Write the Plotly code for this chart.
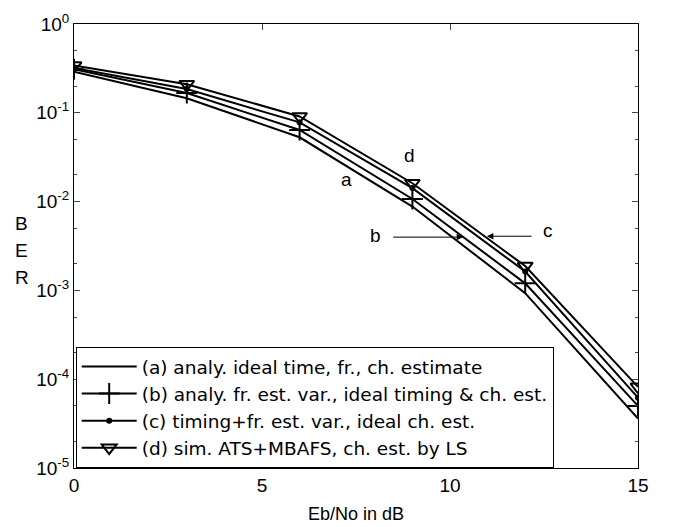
import plotly.graph_objects as go

snr_db = [0, 3, 6, 9, 12, 15]
ber_a = [0.29, 0.146, 0.053, 0.0088, 0.00093, 3.6e-5]
ber_b = [0.31, 0.167, 0.064, 0.0107, 0.0012, 5.0e-5]
ber_c = [0.32, 0.185, 0.078, 0.0142, 0.00163, 6.2e-5]
ber_d = [0.34, 0.210, 0.091, 0.0161, 0.00188, 8.2e-5]

names = [
    "(a) analy. ideal time, fr., ch. estimate",
    "(b) analy. fr. est. var., ideal timing & ch. est.",
    "(c) timing+fr. est. var., ideal ch. est.",
    "(d) sim. ATS+MBAFS, ch. est. by LS",
]

y_tick_vals = [1e-5, 1e-4, 1e-3, 1e-2, 1e-1, 1]
y_tick_text = ["10<sup>-5</sup>", "10<sup>-4</sup>", "10<sup>-3</sup>",
               "10<sup>-2</sup>", "10<sup>-1</sup>", "10<sup>0</sup>"]
x_tick_vals = [0, 5, 10, 15]

FONT = "Liberation Sans, Arial, sans-serif"

fig = go.Figure()
fig.add_trace(go.Scatter(x=snr_db, y=ber_a, name=names[0], mode="lines",
                         line=dict(color="black", width=2)))
fig.add_trace(go.Scatter(x=snr_db, y=ber_b, name=names[1], mode="lines+markers",
                         line=dict(color="black", width=2),
                         marker=dict(symbol="cross-thin", size=15, color="black",
                                     line=dict(color="black", width=2))))
fig.add_trace(go.Scatter(x=snr_db, y=ber_c, name=names[2], mode="lines+markers",
                         line=dict(color="black", width=2),
                         marker=dict(symbol="circle", size=6, color="black")))
fig.add_trace(go.Scatter(x=snr_db, y=ber_d, name=names[3], mode="lines+markers",
                         line=dict(color="black", width=2),
                         marker=dict(symbol="triangle-down-open", size=13, color="black",
                                     line=dict(color="black", width=2))))

# x/y for annotations on log axis given as log10 values
texts = [("a", 7.24, -1.75), ("d", 8.91, -1.48), ("b", 8.03, -2.38), ("c", 12.6, -2.32)]
for t, xx, yy in texts:
    fig.add_annotation(x=xx, y=yy, xref="x", yref="y", text=t, showarrow=False,
                       font=dict(family=FONT, size=19, color="black"))

arrows = [(8.45, 10.35, -2.40), (12.21, 10.98, -2.39)]
for x0, x1, yy in arrows:
    fig.add_annotation(x=x1, y=yy, ax=x0, ay=yy, xref="x", yref="y", axref="x", ayref="y",
                       text="", showarrow=True, arrowhead=2, arrowsize=1.3,
                       arrowwidth=1, arrowcolor="black")

for letter, py in [("B", 0.550), ("E", 0.489), ("R", 0.429)]:
    fig.add_annotation(x=-0.108, y=py, xref="paper", yref="paper", text=letter,
                       showarrow=False, font=dict(family=FONT, size=19, color="black"))

fig.update_layout(
    width=672, height=519,
    margin=dict(l=66, r=42, t=16, b=59),
    paper_bgcolor="white", plot_bgcolor="white",
    font=dict(family=FONT, size=18, color="black"),
    showlegend=True,
    legend=dict(x=0.003, y=0.0, xanchor="left", yanchor="bottom",
                bgcolor="white", bordercolor="black", borderwidth=1,
                font=dict(family="DejaVu Sans, sans-serif", size=18.5, color="black"),
                itemwidth=55, tracegroupgap=0),
)
fig.update_xaxes(range=[0, 15], tickvals=x_tick_vals, ticks="inside", ticklen=6,
                 tickfont=dict(family=FONT, size=19), automargin=False,
                 showline=True, linecolor="black", linewidth=1, mirror="ticks",
                 showgrid=False, zeroline=False,
                 title=dict(text="Eb/No in dB", font=dict(family=FONT, size=18), standoff=12))
fig.update_yaxes(type="log", range=[-5, 0], tickvals=y_tick_vals, ticktext=y_tick_text,
                 tickfont=dict(family=FONT, size=19), automargin=False,
                 ticks="inside", ticklen=6,
                 minor=dict(ticks="inside", ticklen=3, showgrid=False),
                 showline=True, linecolor="black", linewidth=1, mirror="ticks",
                 showgrid=False, zeroline=False)

fig.write_html("out.html")
